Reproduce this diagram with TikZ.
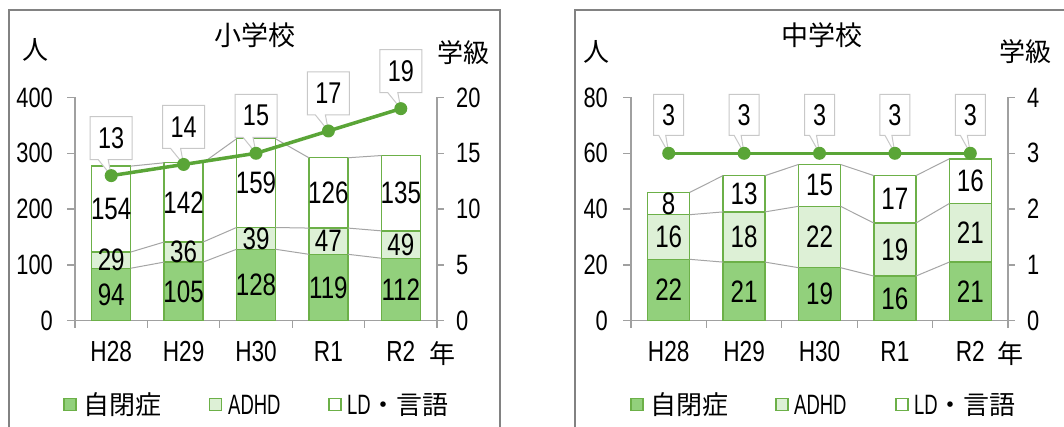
\documentclass[tikz,border=0pt]{standalone}
\usepackage{fontspec}
\setmainfont{Liberation Sans}
\newfontfamily\jpf{Noto Sans CJK JP}
\newfontfamily\numf[FakeStretch=0.78]{Liberation Sans}
\newfontfamily\latf[FakeStretch=0.66]{Liberation Sans}
\definecolor{barG}{RGB}{146,208,124}
\definecolor{barL}{RGB}{221,240,214}
\definecolor{edgeG}{RGB}{108,176,72}
\definecolor{lineG}{RGB}{90,165,55}
\definecolor{axisC}{RGB}{160,160,160}
\definecolor{serC}{RGB}{165,165,165}
\definecolor{frameC}{RGB}{130,130,130}
\definecolor{boxC}{RGB}{200,200,200}
\begin{document}
\begin{tikzpicture}[x=1pt,y=-1pt,
  barA/.style={fill=barG,draw=edgeG,line width=1.3pt},
  barB/.style={fill=barL,draw=edgeG,line width=1.3pt},
  barC/.style={fill=white,draw=edgeG,line width=1.3pt},
  ser/.style={draw=serC,line width=1pt},
  axisln/.style={draw=axisC,line width=1.3pt},
  framebox/.style={draw=frameC,line width=1.2pt},
  vallab/.style={inner sep=0pt,font=\numf\fontsize{31}{31}\selectfont},
  calllab/.style={inner sep=0pt,font=\numf\fontsize{30}{30}\selectfont},
  axlab/.style={inner sep=0pt,font=\numf\fontsize{28}{28}\selectfont},
  catlab/.style={inner sep=0pt,font=\numf\fontsize{29}{29}\selectfont},
  jplab/.style={inner sep=0pt,font=\jpf\fontsize{26}{26}\selectfont},
  titlelab/.style={inner sep=0pt,font=\jpf\fontsize{27}{27}\selectfont},
  leglat/.style={inner sep=0pt,font=\latf\fontsize{28}{28}\selectfont},
  callout/.style={fill=white,draw=boxC,line width=1pt},
  clsline/.style={draw=lineG,line width=3.5pt},
  legsq/.style={draw=edgeG,line width=1.2pt}
]
\useasboundingbox (0,0) rectangle (1064,427);
\clip (0,0) rectangle (1064,427);
\fill[white] (0,0) rectangle (1064,427);

% ===================== LEFT: 小学校 =====================
\draw[framebox] (9,10) rectangle (500,440);
\node[titlelab] (LTitle) at (255,35) {小学校};
\node[jplab] (LUnit) at (35,50) {人};
\node[jplab] (LUnitR) at (463,53) {学級};
\node[jplab] (LYear) at (442,354) {年};

% axes
\draw[axisln] (75,97.5) -- (75,327.5);
\draw[axisln] (437,97.5) -- (437,327.5);
\draw[axisln] (67,320.7) -- (444,320.7);
\foreach \k/\lab/\rlab in {0/0/0,1/100/5,2/200/10,3/300/15,4/400/20}{
  \pgfmathsetmacro\yy{320.7-\k*55.8}
  \draw[axisln] (67,\yy) -- (75,\yy);
  \draw[axisln] (437,\yy) -- (444,\yy);
  \node[axlab,anchor=east] (LAx\k) at (53,\yy) {\lab};
  \node[axlab,anchor=west] (LAxR\k) at (456,\yy) {\rlab};
}
\foreach \k in {1,...,4}{
  \pgfmathsetmacro\xx{75+\k*72.4}
  \draw[axisln] (\xx,320.7) -- (\xx,327.5);
}

% bars
\foreach \i/\a/\b/\c/\cat in {1/94/29/154/H28,2/105/36/142/H29,3/128/39/159/H30,4/119/47/126/R1,5/112/49/135/R2}{
  \pgfmathsetmacro\cx{75+(\i-0.5)*72.4}
  \pgfmathsetmacro\ya{320.7-\a*0.558}
  \pgfmathsetmacro\yb{320.7-(\a+\b)*0.558}
  \pgfmathsetmacro\yc{320.7-(\a+\b+\c)*0.558}
  \draw[barC] (\cx-19.5,\yb) rectangle (\cx+19.5,\yc);
  \draw[barB] (\cx-19.5,\ya) rectangle (\cx+19.5,\yb);
  \draw[barA] (\cx-19.5,320.7) rectangle (\cx+19.5,\ya);
  \coordinate (LAl\i) at (\cx-19.5,\ya);
  \coordinate (LAr\i) at (\cx+19.5,\ya);
  \coordinate (LBl\i) at (\cx-19.5,\yb);
  \coordinate (LBr\i) at (\cx+19.5,\yb);
  \coordinate (LCl\i) at (\cx-19.5,\yc);
  \coordinate (LCr\i) at (\cx+19.5,\yc);
  \node[vallab] (LVa\i) at (\cx,{(320.7+\ya)/2}) {\a};
  \node[vallab] (LVb\i) at (\cx,{(\ya+\yb)/2}) {\b};
  \node[vallab] (LVc\i) at (\cx,{(\yb+\yc)/2}) {\c};
  \node[catlab] (LCat\i) at (\cx,351.5) {\cat};
}
\foreach \i/\j in {1/2,2/3,3/4,4/5}{
  \draw[ser] (LAr\i) -- (LAl\j);
  \draw[ser] (LBr\i) -- (LBl\j);
  \draw[ser] (LCr\i) -- (LCl\j);
}
% class line with callouts
\foreach \i/\k in {1/13,2/14,3/15,4/17,5/19}{
  \pgfmathsetmacro\px{75+(\i-0.5)*72.4}
  \pgfmathsetmacro\py{320.7-\k*11.16}
  \coordinate (LP\i) at (\px,\py);
  \draw[callout] (\px-21,\py-59) -- (\px+21,\py-59) -- (\px+21,\py-16) -- (\px-3,\py-16) -- (LP\i) -- (\px-13,\py-16) -- (\px-21,\py-16) -- cycle;
  \node[calllab] (LK\i) at (\px,\py-37.5) {\k};
}
\draw[clsline] (LP1) -- (LP2) -- (LP3) -- (LP4) -- (LP5);
\foreach \i in {1,...,5}{\fill[lineG] (LP\i) circle[radius=6.5pt];}

% legend
\draw[legsq,fill=barG] (64,398.5) rectangle (76,410.5);
\node[jplab,anchor=west] (LLg1) at (83,405) {自閉症};
\draw[legsq,fill=barL] (209.5,398.5) rectangle (221.5,410.5);
\node[leglat,anchor=west] (LLg2) at (228,405) {ADHD};
\draw[legsq,fill=white] (329,398.5) rectangle (341,410.5);
\node[leglat,anchor=west] (LLg3) at (347,405) {LD\jpf\fontsize{26}{26}\selectfont ・言語};

% ===================== RIGHT: 中学校 =====================
\draw[framebox] (575,10) rectangle (1090,440);
\node[titlelab] (RTitle) at (822,35) {中学校};
\node[jplab] (RUnit) at (596,52) {人};
\node[jplab] (RUnitR) at (1025.5,52) {学級};
\node[jplab] (RYear) at (1010,354) {年};

\draw[axisln] (631,97.5) -- (631,327.5);
\draw[axisln] (1008,97.5) -- (1008,327.5);
\draw[axisln] (623,320.7) -- (1015,320.7);
\foreach \k/\lab/\rlab in {0/0/0,1/20/1,2/40/2,3/60/3,4/80/4}{
  \pgfmathsetmacro\yy{320.7-\k*55.8}
  \draw[axisln] (623,\yy) -- (631,\yy);
  \draw[axisln] (1008,\yy) -- (1015,\yy);
  \node[axlab,anchor=east] (RAx\k) at (608,\yy) {\lab};
  \node[axlab,anchor=west] (RAxR\k) at (1027,\yy) {\rlab};
}
\foreach \k in {1,...,4}{
  \pgfmathsetmacro\xx{631+\k*75.4}
  \draw[axisln] (\xx,320.7) -- (\xx,327.5);
}
\foreach \i/\a/\b/\c/\cat in {1/22/16/8/H28,2/21/18/13/H29,3/19/22/15/H30,4/16/19/17/R1,5/21/21/16/R2}{
  \pgfmathsetmacro\cx{631+(\i-0.5)*75.4}
  \pgfmathsetmacro\ya{320.7-\a*2.79}
  \pgfmathsetmacro\yb{320.7-(\a+\b)*2.79}
  \pgfmathsetmacro\yc{320.7-(\a+\b+\c)*2.79}
  \draw[barC] (\cx-21,\yb) rectangle (\cx+21,\yc);
  \draw[barB] (\cx-21,\ya) rectangle (\cx+21,\yb);
  \draw[barA] (\cx-21,320.7) rectangle (\cx+21,\ya);
  \coordinate (RAl\i) at (\cx-21,\ya);
  \coordinate (RAr\i) at (\cx+21,\ya);
  \coordinate (RBl\i) at (\cx-21,\yb);
  \coordinate (RBr\i) at (\cx+21,\yb);
  \coordinate (RCl\i) at (\cx-21,\yc);
  \coordinate (RCr\i) at (\cx+21,\yc);
  \node[vallab] (RVa\i) at (\cx,{(320.7+\ya)/2}) {\a};
  \node[vallab] (RVb\i) at (\cx,{(\ya+\yb)/2}) {\b};
  \node[vallab] (RVc\i) at (\cx,{(\yb+\yc)/2}) {\c};
  \node[catlab] (RCat\i) at (\cx,351.5) {\cat};
}
\foreach \i/\j in {1/2,2/3,3/4,4/5}{
  \draw[ser] (RAr\i) -- (RAl\j);
  \draw[ser] (RBr\i) -- (RBl\j);
  \draw[ser] (RCr\i) -- (RCl\j);
}
\foreach \i/\k in {1/3,2/3,3/3,4/3,5/3}{
  \pgfmathsetmacro\px{631+(\i-0.5)*75.4}
  \pgfmathsetmacro\py{320.7-\k*55.8}
  \coordinate (RP\i) at (\px,\py);
  \draw[callout] (\px-15,\py-59) -- (\px+15,\py-59) -- (\px+15,\py-18) -- (\px-3,\py-18) -- (RP\i) -- (\px-10,\py-18) -- (\px-15,\py-18) -- cycle;
  \node[calllab] (RK\i) at (\px,\py-38.5) {\k};
}
\draw[clsline] (RP1) -- (RP2) -- (RP3) -- (RP4) -- (RP5);
\foreach \i in {1,...,5}{\fill[lineG] (RP\i) circle[radius=6.5pt];}

\draw[legsq,fill=barG] (631,398.5) rectangle (643,410.5);
\node[jplab,anchor=west] (RLg1) at (650,405) {自閉症};
\draw[legsq,fill=barL] (776,398.5) rectangle (788,410.5);
\node[leglat,anchor=west] (RLg2) at (794,405) {ADHD};
\draw[legsq,fill=white] (896,398.5) rectangle (908,410.5);
\node[leglat,anchor=west] (RLg3) at (914,405) {LD\jpf\fontsize{26}{26}\selectfont ・言語};
\end{tikzpicture}
\end{document}
